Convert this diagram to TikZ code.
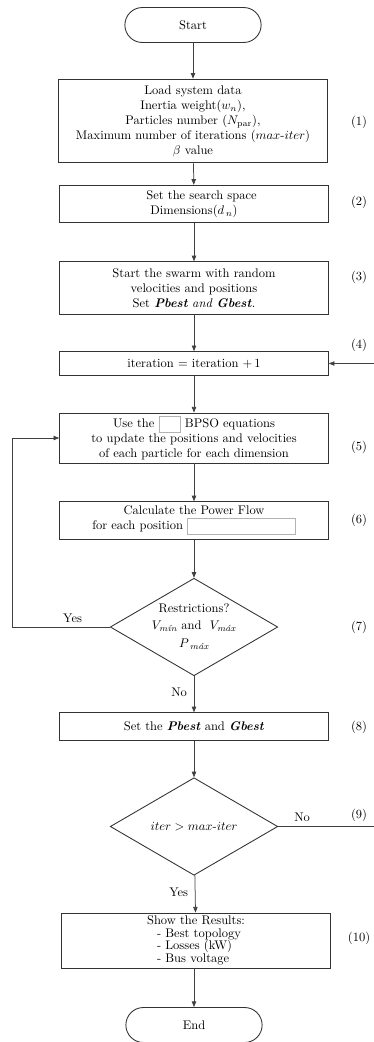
\documentclass[tikz,border=0pt]{standalone}
\usepackage{amsmath,amssymb}
\usetikzlibrary{arrows.meta,shapes.geometric}

% empty slot left in the text of two boxes
\newcommand{\emptyslot}[1]{{\setlength{\fboxsep}{0pt}\setlength{\fboxrule}{0.4pt}\fcolorbox{black!30}{white}{\rule[-3.5pt]{0pt}{13pt}\hspace{#1}}}}

\begin{document}
\begin{tikzpicture}[x=0.8pt,y=-0.8pt,
  procbox/.style={draw=black!80,line width=0.7pt,minimum width=215pt,align=center,inner sep=1pt},
  termbox/.style={draw=black!80,line width=0.7pt,rounded corners=14pt,minimum width=109pt,minimum height=28pt},
  decbox/.style={draw=black!80,line width=0.7pt,diamond,aspect=1.71,minimum width=134pt,minimum height=78pt,inner sep=0pt,align=center},
  flow/.style={draw=black!75,line width=0.6pt,-{Triangle[length=4.5pt,width=3.5pt]}},
  steplbl/.style={font=\normalsize}]
  \useasboundingbox (0,0) rectangle (374,1042);
  % terminals
  \node[termbox] (start) at (193,25) {Start};
  \node[termbox] (stop) at (194,1025) {End};
  % process boxes
  \node[procbox,minimum height=67pt] (load) at (193,121) {Load system data\\ Inertia weight($w_n$),\\ Particles number ($N_{\mathrm{par}}$),\\ Maximum number of iterations ($max\text{-}iter$)\\ $\beta$ value};
  \node[procbox,minimum height=30pt] (space) at (194,204) {\hspace*{12pt}Set the search space\\ Dimensions($d_{\,n}$)};
  \node[procbox,minimum height=42pt] (swarm) at (194,288) {Start the swarm with random\\ velocities and positions\\ Set \textbf{\textit{Pbest}} \textit{and} \textbf{\textit{Gbest}}.};
  \node[procbox,minimum height=19pt] (iter) at (194,363.5) {iteration $=$ iteration $+\,1$};
  \node[procbox,minimum height=40pt] (update) at (194,438) {Use the \emptyslot{17pt} BPSO equations\\ to update the positions and velocities\\ of each particle for each dimension};
  \node[procbox,minimum height=30pt] (flowcalc) at (194,520.5) {Calculate the Power Flow\\ for each position \emptyslot{86pt}};
  \node[procbox,minimum height=22pt] (best) at (194,726.5) {Set the \textbf{\textit{Pbest}} and \textbf{\textit{Gbest}}};
  \node[procbox,minimum height=44pt,align=left] (result) at (196,940.5) {Show the Results:\\[-2pt] \hspace*{8pt}- Best topology\\[-2pt] \hspace*{8pt}- Losses (kW)\\[-2pt] \hspace*{8pt}- Bus voltage};
  % decisions
  \node[decbox] (restr) at (194,627) {Restrictions?\\[1pt] $V_{\textit{mín}}$ and \ $V_{\textit{máx}}$\\[3pt] $P_{\;\textit{máx}}$};
  \node[decbox] (stopq) at (194,826.5) {$iter > max\text{-}iter$};
  % step numbers
  \foreach \n/\y in {1/122,2/202,3/277,4/345,5/447,6/520,7/627,8/727,9/815,10/938}
    \node[steplbl] (num\n) at (359,\y) {(\n)};
  % main flow
  \draw[flow] (start) -- (load);
  \draw[flow] (load) -- (space);
  \draw[flow] (space) -- (swarm);
  \draw[flow] (swarm) -- (iter);
  \draw[flow] (iter) -- (update);
  \draw[flow] (update) -- (flowcalc);
  \draw[flow] (flowcalc) -- (restr);
  \draw[flow] (restr) -- node[left,pos=0.45,xshift=-2pt]{No} (best);
  \draw[flow] (best) -- (stopq);
  \draw[flow] (stopq) -- node[left,pos=0.45,xshift=-2pt]{Yes} (result);
  \draw[flow] (stop.north |- result.south) -- (stop);
  % loops back
  \coordinate (yesleft) at (12,627);
  \draw[flow] (restr.west) -- node[above,pos=0.38]{Yes} (yesleft) |- (update.west);
  \coordinate (noright) at (374,826.5);
  \draw[flow] (stopq.east) -- node[above,pos=0.25]{No} (noright) |- (iter.east);
\end{tikzpicture}
\end{document}
